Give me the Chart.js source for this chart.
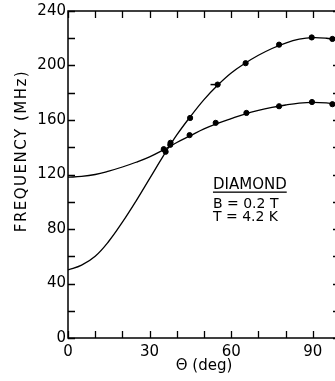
<!DOCTYPE html>
<html>
<head>
<meta charset="utf-8">
<script src="https://cdn.jsdelivr.net/npm/chart.js@4/dist/chart.umd.min.js"></script>
<style>
html,body{margin:0;padding:0;background:#fff;overflow:hidden;}
#wrap{width:345px;height:381px;}
</style>
</head>
<body>
<div id="wrap"><canvas id="c" width="345" height="381"></canvas></div>
<script>
// ---- data ----
const curveAngles = [0,5,10,15,20,25,30,35,40,45,50,55,60,65,70,75,80,85,90,95,100];
const upperCurve  = [50,53.5,60,71,85,100.5,117,133.5,149,162.5,175,185.5,194.5,201.5,207.5,212.5,216.5,219.3,220.5,220,218.5];
const lowerCurve  = [118,118.6,120,122.5,125.5,129,133,138,143.5,148.5,153.5,157.5,161,164.3,167,169.2,171,172.4,173,172.5,171.2];

const upperPtAngles = [35.9,37.7,44.9,55.0,65.3,77.6,89.6,97.2];
const upperPtFreq   = [136.7,143.3,161.5,186.0,201.7,215.3,220.6,219.5];
const lowerPtAngles = [35.2,37.6,44.7,54.3,65.6,77.6,89.7,97.2];
const lowerPtFreq   = [138.6,141.8,148.9,157.9,165.2,170.1,173.2,171.6];

const errBarAngles = [52.4,56.0];
const errBarFreq   = [186.0,186.0];

const xTickLabels = [0,30,60,90];
const yTickLabels = [0,40,80,120,160,200,240];

const yTitle = "FREQUENCY (MHz)";
const xTitle = "\u0398 (deg)";
const noteLines = ["DIAMOND","B = 0.2 T","T = 4.2 K"];

const FONT = "'DejaVu Sans', sans-serif";
const zip = (xs, ys) => xs.map((x,i)=>({x:x,y:ys[i]}));

const framePlugin = {
  id:'frame',
  afterDatasetsDraw(chart){
    const {ctx, chartArea:a, scales:{x,y}} = chart;
    ctx.save();
    ctx.strokeStyle='#000';
    ctx.lineWidth=1.5;
    ctx.strokeRect(a.left,a.top,a.right-a.left,a.bottom-a.top);
    ctx.lineWidth=1.3;
    const tl=7;
    ctx.beginPath();
    x.ticks.forEach(t=>{
      const px=Math.round(x.getPixelForValue(t.value))+0.5;
      ctx.moveTo(px,a.bottom); ctx.lineTo(px,a.bottom-tl);
      ctx.moveTo(px,a.top); ctx.lineTo(px,a.top+tl);
    });
    y.ticks.forEach(t=>{
      const py=Math.round(y.getPixelForValue(t.value))+0.5;
      ctx.moveTo(a.left,py); ctx.lineTo(a.left+tl,py);
      ctx.moveTo(a.right,py); ctx.lineTo(a.right-tl,py);
    });
    ctx.stroke();
    // y title
    ctx.fillStyle='#000';
    ctx.font="15px "+FONT;
    ctx.letterSpacing='1.5px';
    ctx.textAlign='center';
    ctx.textBaseline='middle';
    ctx.translate(22,151);
    ctx.rotate(-Math.PI/2);
    ctx.fillText(yTitle,0,0);
    ctx.restore();
    // note
    ctx.save();
    ctx.fillStyle='#000';
    ctx.textAlign='left';
    ctx.textBaseline='alphabetic';
    const nx = x.getPixelForValue(53.3);
    ctx.font="15px "+FONT;
    ctx.fillText(noteLines[0], nx, 189);
    const w = ctx.measureText(noteLines[0]).width;
    ctx.fillRect(nx, 191.5, w, 1.3);
    ctx.font="14px "+FONT;
    ctx.fillText(noteLines[1], nx, 208);
    ctx.fillText(noteLines[2], nx, 221);
    ctx.restore();
  }
};

new Chart(document.getElementById('c'), {
  type:'scatter',
  data:{
    datasets:[
      {type:'line', data:zip(curveAngles,upperCurve), borderColor:'#000', borderWidth:1.3, pointRadius:0, tension:0.4, fill:false},
      {type:'line', data:zip(curveAngles,lowerCurve), borderColor:'#000', borderWidth:1.3, pointRadius:0, tension:0.4, fill:false},
      {data:zip(upperPtAngles,upperPtFreq), backgroundColor:'#000', borderColor:'#000', pointRadius:2.6, showLine:false},
      {data:zip(lowerPtAngles,lowerPtFreq), backgroundColor:'#000', borderColor:'#000', pointRadius:2.6, showLine:false},
      {type:'line', data:zip(errBarAngles,errBarFreq), borderColor:'#000', borderWidth:1.5, pointRadius:0, fill:false}
    ]
  },
  options:{
    responsive:false,
    animation:false,
    devicePixelRatio:1,
    layout:{padding:{top:9,right:4,left:0,bottom:0}},
    plugins:{legend:{display:false},tooltip:{enabled:false}},
    scales:{
      x:{
        type:'linear', min:0, max:100,
        afterFit(s){ s.height = 43; },
        grid:{display:false, drawTicks:false},
        border:{display:false},
        ticks:{stepSize:10, padding:5, color:'#000', font:{family:FONT,size:15}, maxRotation:0, autoSkip:false,
          callback:v=> xTickLabels.includes(v) ? String(v) : ''},
        title:{display:true, text:xTitle, color:'#000', font:{family:FONT,size:15}, padding:{top:0,bottom:6}}
      },
      y:{
        type:'linear', min:0, max:240,
        afterFit(s){ s.width = 68; },
        grid:{display:false, drawTicks:false},
        border:{display:false},
        ticks:{stepSize:20, padding:2, color:'#000', font:{family:FONT,size:15}, autoSkip:false,
          callback:v=> yTickLabels.includes(v) ? String(v) : ''}
      }
    }
  },
  plugins:[framePlugin]
});
</script>
</body>
</html>
